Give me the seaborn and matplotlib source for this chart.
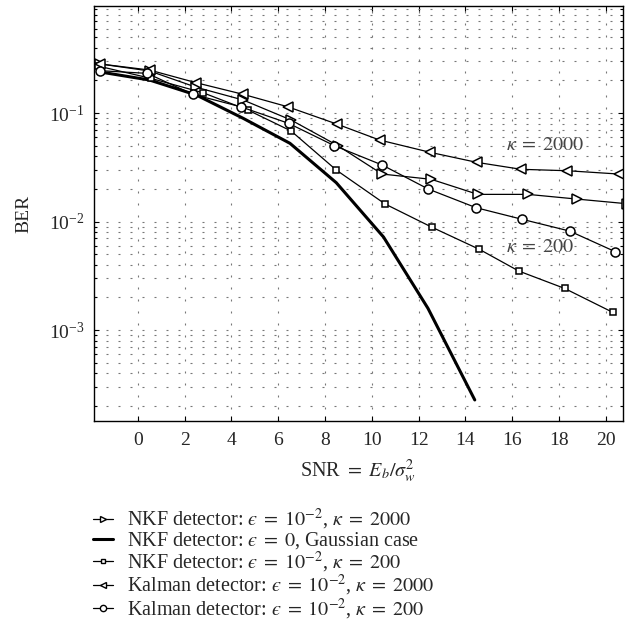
import matplotlib
matplotlib.use("Agg")
import matplotlib.pyplot as plt
import matplotlib.ticker as mticker
from matplotlib.lines import Line2D
import seaborn as sns

# ---- data (BER vs SNR) ----
nkf2000_x = [-1.6, 0.5, 2.5, 4.5, 6.55, 8.55, 10.44, 12.54, 14.53, 16.67, 18.78, 20.9]
nkf2000_y = [0.283, 0.244, 0.1726, 0.1318, 0.0862, 0.0500, 0.0274, 0.0245, 0.0178, 0.0178, 0.0161, 0.0146]

gauss_x = [-1.6, 0.5, 2.5, 4.5, 6.5, 8.48, 10.5, 12.4, 14.4]
gauss_y = [0.2387, 0.2014, 0.1465, 0.0894, 0.0526, 0.0228, 0.0072, 0.001585, 0.000227]

nkf200_x = [-1.7, 0.55, 2.78, 4.7, 6.55, 8.48, 10.57, 12.58, 14.6, 16.28, 18.24, 20.3]
nkf200_y = [0.271, 0.2088, 0.1539, 0.1066, 0.0683, 0.02984, 0.0145, 0.00884, 0.00554, 0.0035, 0.00242, 0.001456]

kal2000_x = [-1.6, 0.5, 2.5, 4.5, 6.4, 8.5, 10.33, 12.5, 14.49, 16.38, 18.35, 20.56]
kal2000_y = [0.283, 0.249, 0.190, 0.1487, 0.1143, 0.0792, 0.0564, 0.0434, 0.0351, 0.0303, 0.0294, 0.0274]

kal200_x = [-1.6, 0.4, 2.35, 4.39, 6.44, 8.4, 10.44, 12.42, 14.46, 16.43, 18.45, 20.41]
kal200_y = [0.2455, 0.232, 0.1487, 0.1143, 0.0804, 0.0500, 0.0332, 0.0199, 0.01341, 0.01048, 0.00818, 0.00527]

labels = [
    r"NKF detector: $ϵ\;=\;10^{-2}$, $\kappa\;=\;2000$",
    r"NKF detector: $ϵ\;=\;0$, Gaussian case",
    r"NKF detector: $ϵ\;=\;10^{-2}$, $\kappa\;=\;200$",
    r"Kalman detector: $ϵ\;=\;10^{-2}$, $\kappa\;=\;2000$",
    r"Kalman detector: $ϵ\;=\;10^{-2}$, $\kappa\;=\;200$",
]
x_ticks = list(range(0, 21, 2))

sns.set_style("ticks")
plt.rcParams["font.family"] = ["Liberation Serif", "DejaVu Serif"]
plt.rcParams["mathtext.fontset"] = "stix"

fig = plt.figure(figsize=(6.26, 6.38), dpi=100)
ax = fig.add_axes([0.150, 0.340, 0.845, 0.6506])

mk = dict(color="black", lw=0.9, mfc="white", mec="black", mew=1.1, clip_on=True)
sns.lineplot(x=nkf2000_x, y=nkf2000_y, marker=">", ms=7.5, ax=ax, **mk)
sns.lineplot(x=gauss_x, y=gauss_y, color="black", lw=2.2, ax=ax)
sns.lineplot(x=nkf200_x, y=nkf200_y, marker="s", ms=5, ax=ax, **mk)
sns.lineplot(x=kal2000_x, y=kal2000_y, marker="<", ms=7.5, ax=ax, **mk)
sns.lineplot(x=kal200_x, y=kal200_y, marker="o", ms=6.5, ax=ax, **mk)

ax.set_yscale("log")
ax.set_xlim(-1.88, 20.73)
ax.set_ylim(1.45e-4, 0.969)
ax.set_xticks(x_ticks)
ax.yaxis.set_major_locator(mticker.LogLocator(base=10, numticks=10))
ax.yaxis.set_minor_locator(mticker.LogLocator(base=10, subs=range(2, 10), numticks=20))
ax.yaxis.set_minor_formatter(mticker.NullFormatter())

dots = (0, (1.8, 9))
ax.grid(True, which="major", axis="both", color="#777777", lw=0.8, linestyle=dots)
ax.grid(True, which="minor", axis="y", color="#777777", lw=0.8, linestyle=dots)

ax.tick_params(which="both", direction="in", top=True, right=True, labelsize=14, color="black")
ax.tick_params(which="major", length=3.6, width=0.8)
ax.tick_params(which="minor", length=2.2, width=0.8)
ax.tick_params(axis="x", pad=8)
ax.tick_params(axis="y", pad=7)
for s in ax.spines.values():
    s.set_linewidth(1.0)
    s.set_color("black")

ax.text(15.75, 0.0507, r"$\kappa\;=\;2000$", fontsize=14.5, color="#444444", va="center", ha="left")
ax.text(15.75, 0.00582, r"$\kappa\;=\;200$", fontsize=14.5, color="#444444", va="center", ha="left")

ax.set_xlabel(r"SNR $=$ $E_b/\sigma_w^2$", fontsize=14.5, labelpad=6)
ax.set_ylabel("BER", fontsize=14, labelpad=12)

handles = [
    Line2D([], [], color="black", lw=0.9, marker=">", ms=5, mfc="white", mec="black", mew=1.0),
    Line2D([], [], color="black", lw=2.2),
    Line2D([], [], color="black", lw=0.9, marker="s", ms=3.5, mfc="white", mec="black", mew=1.0),
    Line2D([], [], color="black", lw=0.9, marker="<", ms=5, mfc="white", mec="black", mew=1.0),
    Line2D([], [], color="black", lw=0.9, marker="o", ms=4.5, mfc="white", mec="black", mew=1.0),
]
fig.legend(handles, labels, loc="upper left", bbox_to_anchor=(0.1486, 0.2053),
           frameon=False, fontsize=14.5, handlelength=1.0, handletextpad=0.68,
           labelspacing=-0.08, borderaxespad=0, borderpad=0)

fig.savefig("out.png", dpi=100)
